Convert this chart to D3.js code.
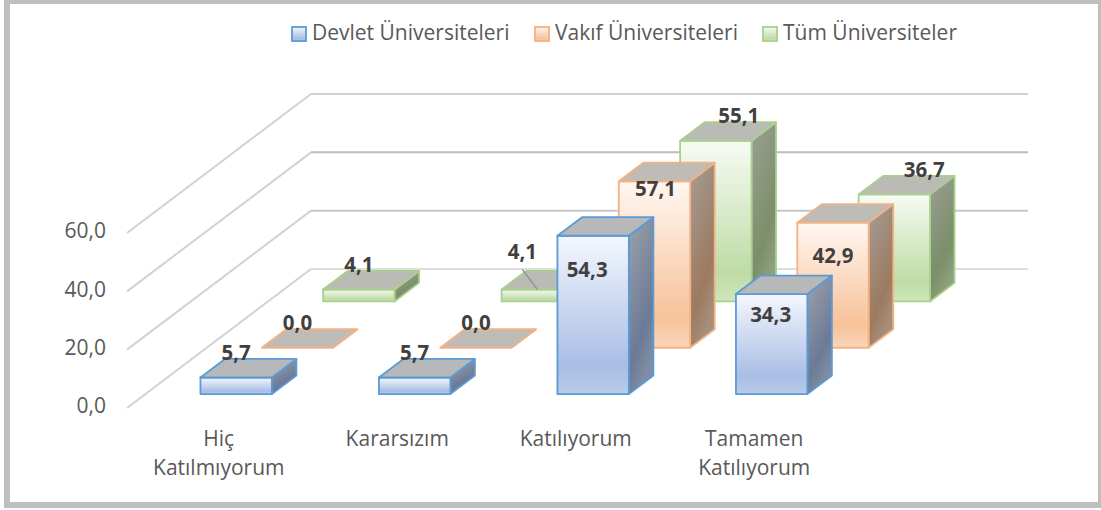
<!DOCTYPE html>
<html>
<head>
<meta charset="utf-8">
<script src="https://cdn.jsdelivr.net/npm/d3@7"></script>
<style>
  html, body { margin: 0; padding: 0; background: #fff; }
  svg { display: block; }
  text { font-family: "Open Sans", sans-serif; }
</style>
</head>
<body>
<script>
var categories = [["Hiç", "Katılmıyorum"], ["Kararsızım"], ["Katılıyorum"], ["Tamamen", "Katılıyorum"]];
var seriesNames = ["Devlet Üniversiteleri", "Vakıf Üniversiteleri", "Tüm Üniversiteler"];
var devlet = [5.7, 5.7, 54.3, 34.3];
var vakif = [0.0, 0.0, 57.1, 42.9];
var tum = [4.1, 4.1, 55.1, 36.7];
var yTicks = [0, 20, 40, 60];

var allValues = [devlet, vakif, tum];

var width = 1101, height = 510;
var svg = d3.select("body").append("svg").attr("width", width).attr("height", height);
var defs = svg.append("defs");

// front edge of the floor, the walls go back from here
var wallX = 127;
var x = d3.scaleBand().domain(d3.range(categories.length)).range([128.5, 842.5]).paddingInner(0.6).paddingOuter(0.3);
var y = d3.scaleLinear().domain([0, 60]).range([408, 233]);
var z = d3.scaleBand().domain(d3.range(seriesNames.length)).range([0, 1]).paddingInner(0.6).paddingOuter(0.3);
var backDx = 184, backDy = -139;
var fontSize = 21;

var fmt = function(v) { return v.toFixed(1).replace(".", ","); };

var project = function(sx, v, depth) {
  return [sx + depth * backDx, y(v) + depth * backDy];
};

var poly = function(pts) { return pts.map(function(p) { return p.join(","); }).join(" "); };

var themes = [
  { stroke: "#5b9bd5", top: "#b6b8ba", front: ["#f4f7fe", "#a9bee5", "#bacbea"], side: ["#9ea3ab", "#6b7a96", "#7f8ca3"] },
  { stroke: "#f4b183", top: "#bfbbb6", front: ["#fff7f1", "#f7c29a", "#fad6ba"], side: ["#a59e97", "#9c7a60", "#a68e7a"] },
  { stroke: "#a9d18e", top: "#babbb5", front: ["#f7fbf4", "#bedca6", "#cee6bb"], side: ["#9c9f94", "#7b8f69", "#8ea17d"] }
];

themes.forEach(function(t, i) {
  var f = defs.append("linearGradient").attr("id", "front" + i).attr("x1", 0).attr("y1", 0).attr("x2", 0).attr("y2", 1);
  f.append("stop").attr("offset", "0%").attr("stop-color", t.front[0]);
  f.append("stop").attr("offset", "82%").attr("stop-color", t.front[1]);
  f.append("stop").attr("offset", "100%").attr("stop-color", t.front[2]);
  var s = defs.append("linearGradient").attr("id", "side" + i).attr("x1", 0).attr("y1", 0).attr("x2", 0.4).attr("y2", 1);
  s.append("stop").attr("offset", "0%").attr("stop-color", t.side[0]);
  s.append("stop").attr("offset", "75%").attr("stop-color", t.side[1]);
  s.append("stop").attr("offset", "100%").attr("stop-color", t.side[2]);
});

//================= frame ==================
svg.append("rect").attr("x", 4).attr("y", 0).attr("width", 1097).attr("height", 508).attr("fill", "#bfbfbf");
svg.append("rect").attr("x", 10).attr("y", 4).attr("width", 1088).attr("height", 498).attr("fill", "#fff");

//================= walls ==================
var gridColors = ["#dedede", "#c6c6c6", "#bdbdbd", "#d2d2d2"];
var grid = svg.append("g").attr("fill", "none").attr("stroke-width", 2);
yTicks.forEach(function(t, i) {
  var back = project(wallX, t, 1);
  grid.append("line")
    .attr("x1", wallX).attr("y1", y(t)).attr("x2", back[0]).attr("y2", back[1])
    .attr("stroke", "#d2d2d2");
  grid.append("line")
    .attr("x1", back[0]).attr("y1", back[1]).attr("x2", 1028).attr("y2", back[1])
    .attr("stroke", gridColors[i]);
});

var axisG = svg.append("g");
yTicks.forEach(function(t) {
  axisG.append("text")
    .attr("x", 106).attr("y", y(t) - 2).attr("dy", "0.35em")
    .attr("text-anchor", "end").attr("fill", "#595959").attr("font-size", fontSize)
    .text(fmt(t));
});

categories.forEach(function(lines, i) {
  var label = svg.append("text")
    .attr("text-anchor", "middle").attr("fill", "#595959").attr("font-size", fontSize);
  lines.forEach(function(line, j) {
    label.append("tspan")
      .attr("x", x(i) + x.bandwidth() / 2 + 1)
      .attr("y", 446 + j * 29)
      .text(line);
  });
});

//================= bars, back row first ==================
var drawBar = function(s, c) {
  var v = allValues[s][c];
  var t = themes[s];
  var x0 = x(c), x1 = x(c) + x.bandwidth();
  var d0 = z(s), d1 = z(s) + z.bandwidth();
  var g = svg.append("g")
    .attr("stroke", t.stroke).attr("stroke-width", 1.8).attr("stroke-linejoin", "round");
  if (v > 0) {
    g.append("polygon").attr("fill", "url(#side" + s + ")")
      .attr("points", poly([project(x1, v, d0), project(x1, v, d1), project(x1, 0, d1), project(x1, 0, d0)]));
    g.append("polygon").attr("fill", "url(#front" + s + ")")
      .attr("points", poly([project(x0, v, d0), project(x1, v, d0), project(x1, 0, d0), project(x0, 0, d0)]));
  }
  g.append("polygon").attr("fill", t.top)
    .attr("points", poly([project(x0, v, d0), project(x1, v, d0), project(x1, v, d1), project(x0, v, d1)]));
};

for (var s = seriesNames.length - 1; s >= 0; s--) {
  for (var c = 0; c < categories.length; c++) {
    drawBar(s, c);
  }
}

//================= data labels ==================
// where excel moved a label away from its default spot, [series, category]: [dx, dy]
var labelMoves = { "2,1": [-15, -13], "0,2": [-6, 59], "1,2": [1, 32.5], "2,2": [23, 0], "2,3": [30, 0], "0,3": [-1, 46], "1,3": [0, 58.5] };

allValues.forEach(function(vals, s) {
  vals.forEach(function(v, c) {
    var move = labelMoves[s + "," + c] || [0, 0];
    var frontMid = project(x(c) + x.bandwidth() / 2, v, z(s));
    var backEdge = project(x(c), v, z(s) + z.bandwidth());
    var lx = frontMid[0] + move[0];
    var ly = backEdge[1] - 6.5 + move[1];
    // the second 4,1 has a leader line to its bar
    if (s == 2 && c == 1) {
      svg.append("line")
        .attr("x1", lx).attr("y1", ly + 18).attr("x2", frontMid[0]).attr("y2", frontMid[1])
        .attr("stroke", "#8c8c8c").attr("stroke-width", 1.2);
    }
    svg.append("text")
      .attr("x", lx)
      .attr("y", ly)
      .attr("dy", "0.35em")
      .attr("text-anchor", "middle")
      .attr("font-size", 20.5).attr("font-weight", 700).attr("fill", "#404040")
      .text(fmt(v));
  });
});

//================= legend ==================
var legendX = [292, 535, 763];
seriesNames.forEach(function(name, i) {
  var t = themes[i];
  svg.append("rect")
    .attr("x", legendX[i]).attr("y", 27).attr("width", 14).attr("height", 14)
    .attr("fill", "url(#front" + i + ")").attr("stroke", t.stroke).attr("stroke-width", 1.8);
  svg.append("text")
    .attr("x", legendX[i] + 20).attr("y", 40)
    .attr("fill", "#595959").attr("font-size", fontSize)
    .text(name);
});
</script>
</body>
</html>
